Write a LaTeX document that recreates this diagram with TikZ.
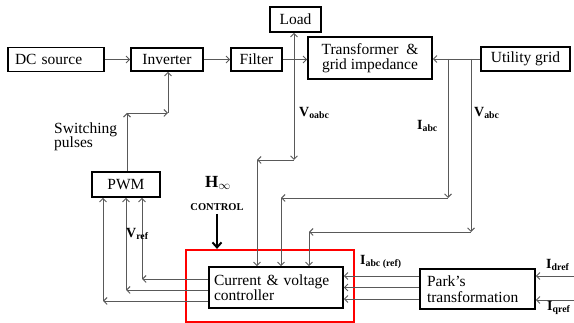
\documentclass[tikz,border=0pt]{standalone}
\usepackage{fontspec}
\setmainfont{Liberation Serif}
\usetikzlibrary{arrows.meta}
\begin{document}
\begin{tikzpicture}[x=1pt,y=-1pt,
  blk/.style={draw=black,line width=1.6pt,fill=white,inner sep=2pt,font=\fontsize{15.5}{15.5}\selectfont},
  conn/.style={draw=black!65,line width=0.9pt},
  arr/.style={conn,-{Straight Barb[length=3.5pt,width=7pt]}},
  lbl/.style={font=\fontsize{14}{14}\selectfont\bfseries,inner sep=0pt,anchor=west}]
\useasboundingbox (0,0) rectangle (574,323);
% red frame
\node[draw=red,line width=2.2pt,minimum width=168pt,minimum height=72pt,inner sep=0pt] (red) at (270,286) {};
% blocks
\node[blk,minimum width=96pt,minimum height=24pt,text width=86pt,align=left] (dc) at (56,59.5) {\hspace*{2pt}DC source};
\node[blk,minimum width=72pt,minimum height=23pt] (inv) at (167,59.5) {Inverter};
\node[blk,minimum width=51pt,minimum height=23pt] (filt) at (256.5,59.5) {Filter};
\node[blk,minimum width=51pt,minimum height=25pt] (load) at (295.5,19.5) {Load};
\node[blk,minimum width=124pt,minimum height=42pt,align=center,inner sep=1pt] (tr) at (370,58) {Transformer \ \&\\grid impedance};
\node[blk,minimum width=89pt,minimum height=24pt] (ug) at (525.5,59) {Utility grid};
\node[blk,minimum width=68pt,minimum height=25pt] (pwm) at (126,184.5) {PWM};
\node[blk,minimum width=134pt,minimum height=41pt,text width=124pt,align=left,inner sep=1pt] (ctrl) at (276,287.5) {Current \& voltage\\controller};
\node[blk,minimum width=115pt,minimum height=40pt,text width=101pt,align=left,inner sep=1pt] (park) at (477.5,289) {Park's\\transformation};
% coordinates
\coordinate (j1) at (294,59.5);
\coordinate (c1) at (294,160);
\coordinate (c2) at (257,160);
\coordinate (j2) at (448,59);
\coordinate (c3) at (448,198);
\coordinate (c4) at (281,198);
\coordinate (j3) at (471,59);
\coordinate (c5) at (471,232);
\coordinate (c6) at (309,232);
\coordinate (c7) at (127,113);
\coordinate (c8) at (168,113);
\coordinate (o1) at (142,279);
\coordinate (o2) at (126,290);
\coordinate (o3) at (103,301);
\coordinate (id) at (574,276);
\coordinate (iq) at (574,300);
% forward path
\draw[arr] (dc.east |- 0,59.5) -- (inv.west |- 0,59.5);
\draw[arr] (inv.east |- 0,59.5) -- (filt.west |- 0,59.5);
\draw[arr] (filt.east |- 0,59.5) -- (tr.west |- 0,59.5);
\draw[arr] (j1) -- (j1 |- load.south);
\draw[arr] (j1) -- (c1);
\draw[arr] (c1) -- (c2);
\draw[arr] (c2) -- (c2 |- ctrl.north);
% utility grid
\draw[arr] (ug.west) -- (ug.west -| tr.east);
\draw[arr] (j2) -- (c3);
\draw[arr] (c3) -- (c4);
\draw[arr] (c4) -- (c4 |- ctrl.north);
\draw[arr] (j3) -- (c5);
\draw[arr] (c5) -- (c6);
\draw[arr] (c6) -- (c6 |- ctrl.north);
% PWM to inverter
\draw[arr] (pwm.north -| c7) -- (c7);
\draw[arr] (c7) -- (c8);
\draw[arr] (c8) -- (c8 |- inv.south);
% controller to PWM
\draw[arr] (ctrl.west |- o1) -- (o1);
\draw[arr] (o1) -- (o1 |- pwm.south);
\draw[arr] (ctrl.west |- o2) -- (o2);
\draw[arr] (o2) -- (o2 |- pwm.south);
\draw[arr] (ctrl.west |- o3) -- (o3);
\draw[arr] (o3) -- (o3 |- pwm.south);
% park to controller
\draw[arr] (park.west |- 0,276) -- (ctrl.east |- 0,276);
\draw[arr] (park.west |- 0,287.5) -- (ctrl.east |- 0,287.5);
\draw[arr] (park.west |- 0,299) -- (ctrl.east |- 0,299);
\draw[arr] (id) -- (id -| park.east);
\draw[arr] (iq) -- (iq -| park.east);
% H infinity control
\coordinate (hc) at (217,214);
\draw[line width=2.2pt,-{Straight Barb[length=5pt,width=9pt,line width=2pt]}] (hc) -- (hc |- red.north);
% labels
\node[lbl] (lvo) at (299,113) {V\textsubscript{oabc}};
\node[lbl] (lia) at (417,126) {I\textsubscript{abc}};
\node[lbl] (lva) at (474,113) {V\textsubscript{abc}};
\node[lbl] (lvr) at (126,234) {V\textsubscript{ref}};
\node[lbl] (lir) at (360,262) {I\textsubscript{abc (ref)}};
\node[lbl] (lid) at (546,265) {I\textsubscript{dref}};
\node[lbl] (liq) at (547,308) {I\textsubscript{qref}};
\node[lbl,font=\fontsize{17}{17}\selectfont\bfseries] (lh) at (205,183) {H$_\infty$};
\node[inner sep=0pt,font=\fontsize{10.5}{11}\selectfont\bfseries] (lc) at (217,207) {CONTROL};
\node[inner sep=0pt,anchor=west,align=left,font=\fontsize{15.5}{14.5}\selectfont] (lsw) at (54,137) {Switching\\pulses};
\end{tikzpicture}
\end{document}
